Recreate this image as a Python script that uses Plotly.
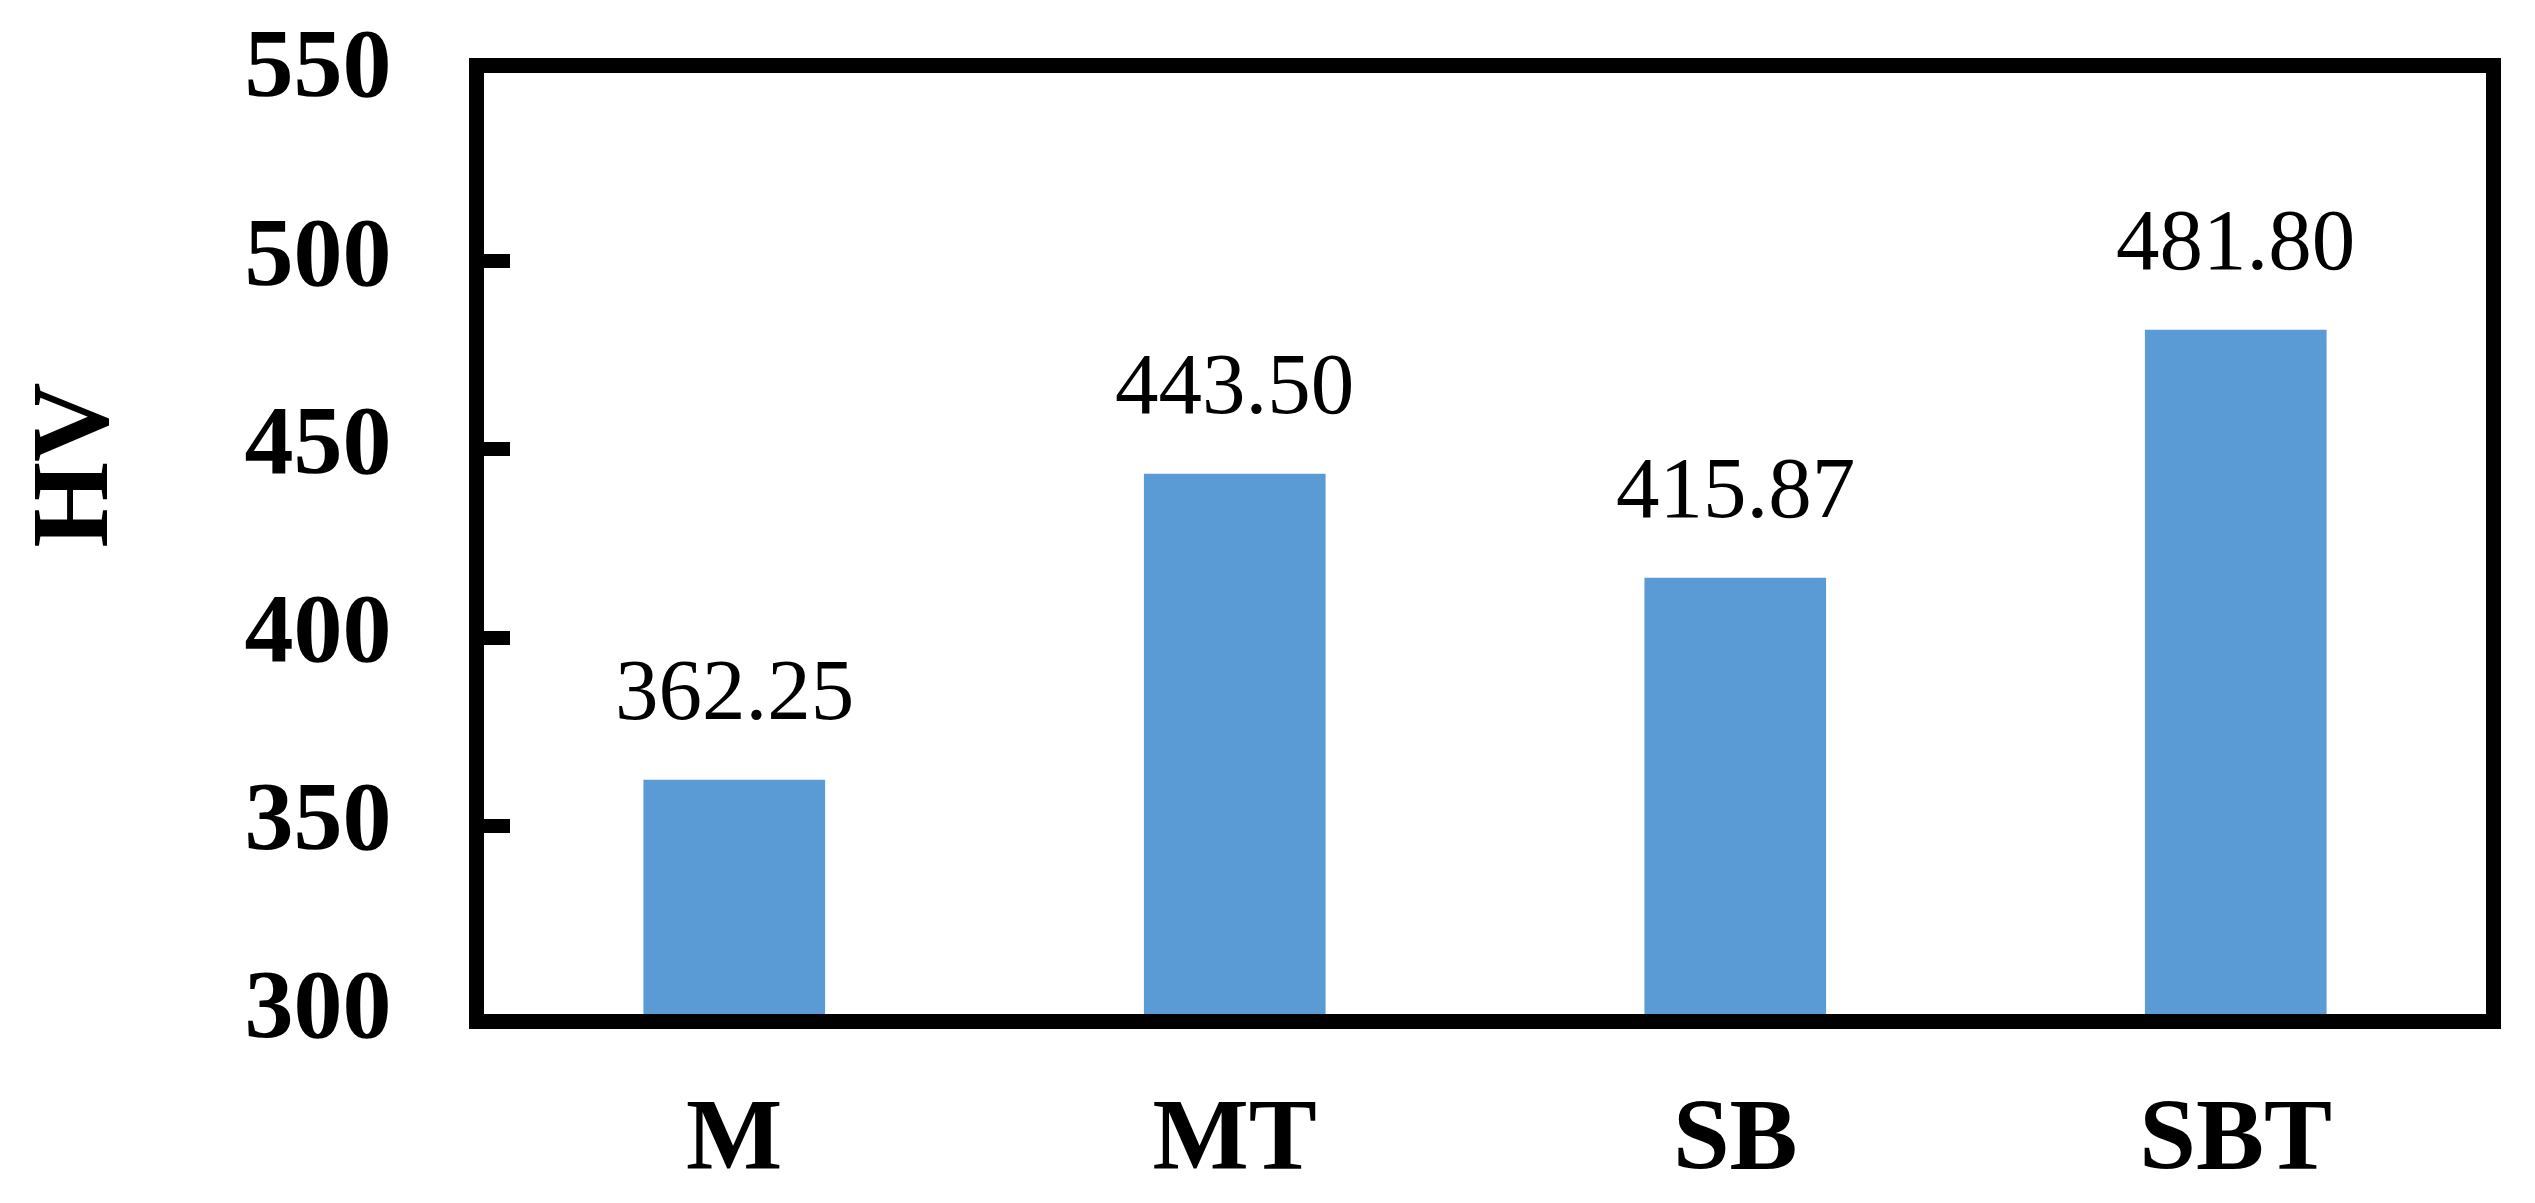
import plotly.graph_objects as go

categories = ["M", "MT", "SB", "SBT"]
hv_values = [362.25, 443.50, 415.87, 481.80]
value_labels = ["362.25", "443.50", "415.87", "481.80"]
y_ticks = [300, 350, 400, 450, 500, 550]

BAR_COLOR = "#5B9BD5"
FONT = "Liberation Serif"

fig = go.Figure()
fig.add_trace(go.Bar(
    x=categories,
    y=hv_values,
    marker=dict(color=BAR_COLOR, line=dict(width=0)),
    hoverinfo="x+y",
))

for c, v, t in zip(categories, hv_values, value_labels):
    fig.add_annotation(
        x=c, y=v, xref="x", yref="y", text=t, showarrow=False,
        yanchor="bottom", xanchor="center", yshift=40,
        font=dict(family=FONT, size=87, color="black"),
    )

fig.add_annotation(
    x=-0.207, y=0.5835, xref="paper", yref="paper", text="<b>HV</b>",
    showarrow=False, textangle=-90, xanchor="center", yanchor="middle",
    font=dict(family=FONT, size=110, color="black"),
)

# page body has an 8px default margin, so the figure is 16px smaller than the window
fig.update_layout(
    width=2527, height=1195,
    margin=dict(l=476, r=49, t=65, b=189, pad=0),
    paper_bgcolor="white", plot_bgcolor="white",
    bargap=0.637,
    showlegend=False,
    font=dict(family=FONT, color="black"),
)

fig.update_xaxes(
    type="category", automargin=False,
    showline=True, linecolor="black", linewidth=15, mirror=True,
    ticks="", showgrid=False, zeroline=False,
    tickfont=dict(family=FONT, size=102, color="black", weight="bold"),
    ticklabelstandoff=18,
    ticklabeloverflow="allow",
)
fig.update_yaxes(
    range=[300, 550], automargin=False,
    tickvals=y_ticks,
    ticktext=[str(v) for v in y_ticks],
    showline=True, linecolor="black", linewidth=15, mirror=True,
    ticks="inside", ticklen=26, tickwidth=14, tickcolor="black",
    showgrid=False, zeroline=False,
    tickfont=dict(family=FONT, size=98, color="black", weight="bold"),
    ticklabelstandoff=58,
    ticklabelshift=-11,
    ticklabeloverflow="allow",
)

fig.write_html("out.html")
